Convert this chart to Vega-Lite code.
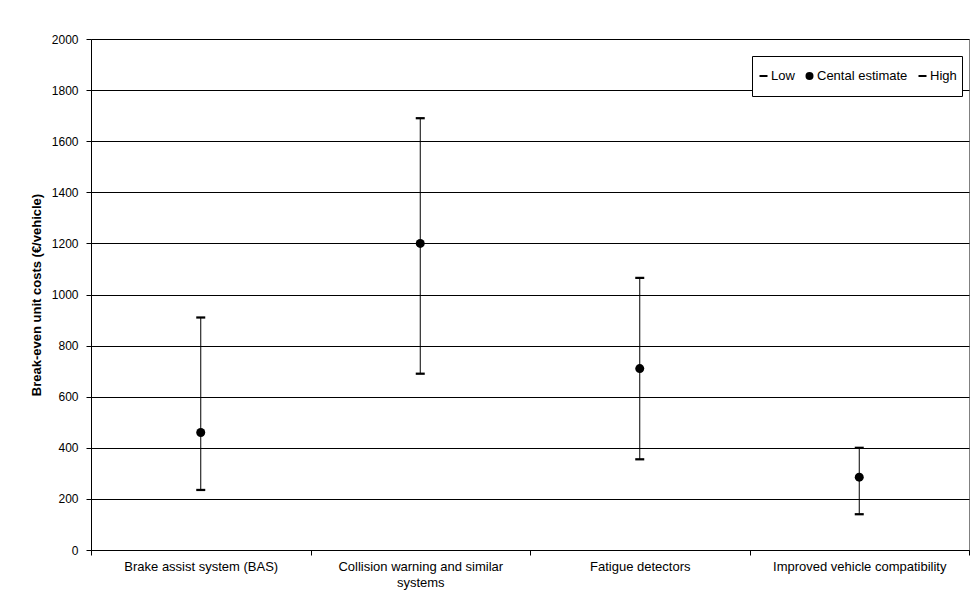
{
  "$schema": "https://vega.github.io/schema/vega-lite/v6.json",
  "width": 878,
  "height": 511,
  "autosize": {"type": "none"},
  "padding": {"left": 91, "top": 39, "right": 5, "bottom": 58},
  "background": "white",
  "config": {
    "font": "Liberation Sans",
    "view": {"stroke": "#808080", "strokeWidth": 1}
  },
  "data": {
    "values": [
      {"system": "Brake assist system (BAS)", "Low": 235, "Cental estimate": 460, "High": 910},
      {"system": "Collision warning and similar systems", "Low": 690, "Cental estimate": 1200, "High": 1690},
      {"system": "Fatigue detectors", "Low": 355, "Cental estimate": 710, "High": 1065},
      {"system": "Improved vehicle compatibility", "Low": 140, "Cental estimate": 285, "High": 400}
    ]
  },
  "layer": [
    {
      "mark": {"type": "rule", "color": "black", "strokeWidth": 1},
      "encoding": {
        "x": {
          "field": "system",
          "type": "nominal",
          "sort": null,
          "scale": {"type": "band", "paddingInner": 0, "paddingOuter": 0},
          "axis": {
            "title": null,
            "labelAngle": 0,
            "tickBand": "extent",
            "domainColor": "black",
            "tickColor": "black",
            "tickSize": 5,
            "labelFontSize": 13,
            "labelColor": "black",
            "labelPadding": 5,
            "labelLimit": 0,
            "labelLineHeight": 16,
            "grid": false,
            "labelExpr": "datum.value == 'Collision warning and similar systems' ? ['Collision warning and similar', 'systems'] : datum.value"
          }
        },
        "y": {
          "field": "Low",
          "type": "quantitative",
          "scale": {"domain": [0, 2000], "nice": false},
          "axis": {
            "title": "Break-even unit costs (€/vehicle)",
            "titleFontSize": 13,
            "titleFontWeight": "bold",
            "titleColor": "black",
            "titlePadding": 8,
            "values": [0, 200, 400, 600, 800, 1000, 1200, 1400, 1600, 1800, 2000],
            "format": "d",
            "grid": true,
            "gridColor": "black",
            "gridOpacity": 1,
            "domainColor": "black",
            "tickColor": "black",
            "tickSize": 5,
            "labelFontSize": 12,
            "labelColor": "black",
            "labelPadding": 8
          }
        },
        "y2": {"field": "High"}
      }
    },
    {
      "transform": [{"fold": ["Low", "Cental estimate", "High"], "as": ["measure", "value"]}],
      "mark": {"type": "point", "filled": true, "color": "black", "opacity": 1, "size": 81},
      "encoding": {
        "x": {"field": "system", "type": "nominal", "sort": null},
        "y": {"field": "value", "type": "quantitative"},
        "shape": {
          "field": "measure",
          "type": "nominal",
          "scale": {
            "domain": ["Low", "Cental estimate", "High"],
            "range": ["M-1,-0.25H1V0.25H-1Z", "circle", "M-1,-0.25H1V0.25H-1Z"]
          },
          "legend": {
            "title": null,
            "orient": "none",
            "legendX": 661,
            "legendY": 17,
            "direction": "horizontal",
            "strokeColor": "black",
            "fillColor": "white",
            "padding": 5,
            "clipHeight": 30,
            "labelFontSize": 13,
            "labelColor": "black",
            "symbolSize": 64,
            "symbolFillColor": "black",
            "symbolStrokeColor": "black",
            "symbolOpacity": 1,
            "columnPadding": 8,
            "labelOffset": 1
          }
        }
      }
    }
  ]
}
